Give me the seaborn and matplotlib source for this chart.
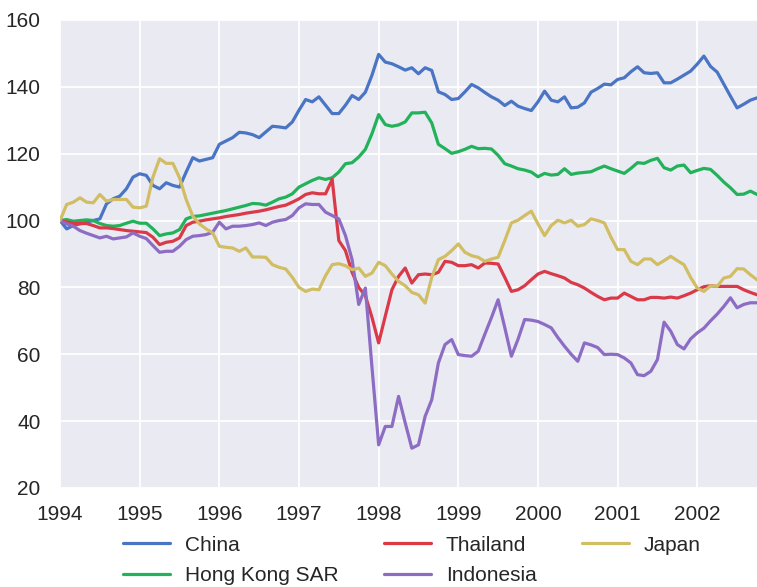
import numpy as np
import pandas as pd
import matplotlib
matplotlib.use("Agg")
import matplotlib.pyplot as plt
import seaborn as sns

start_year = 1994
countries = ["China", "Hong Kong SAR", "Thailand", "Indonesia", "Japan"]
colors = ["#4A74C4", "#21B25A", "#DA3A48", "#8D6CC4", "#D1BD63"]
year_ticks = [1994, 1995, 1996, 1997, 1998, 1999, 2000, 2001, 2002]
y_ticks = [20, 40, 60, 80, 100, 120, 140, 160]

china = [100, 97.5, 98.5, 99, 99.5, 100, 100.5, 105, 106.5, 107.3, 109.5, 113,
         114, 113.5, 110.5, 109.5, 111.3, 110.5, 110, 114.5, 118.8, 117.8, 118.3, 118.8,
         122.8, 123.8, 124.8, 126.4, 126.2, 125.7, 124.8, 126.5, 128.2, 128, 127.7, 129.5,
         133, 136.2, 135.5, 137, 134.5, 132, 132, 134.5, 137.4, 136.2, 138.4, 143.5,
         149.7, 147.4, 146.9, 146, 145, 145.7, 143.9, 145.7, 144.9, 138.5, 137.7, 136.2,
         136.5, 138.5, 140.7, 139.7, 138.3, 137, 136, 134.4, 135.7, 134.2, 133.5, 132.9,
         135.5, 138.7, 136, 135.5, 137, 133.7, 133.9, 135.2, 138.4, 139.5, 140.8, 140.6,
         142.2, 142.7, 144.5, 146, 144.2, 144, 144.2, 141.2, 141.2, 142.3, 143.5, 144.7,
         146.8, 149.2, 146.1, 144.4, 140.8, 137.2, 133.7, 134.8, 136, 136.7]

hong_kong = [100, 100.3, 99.8, 100, 100.2, 100, 99.1, 98.5, 98.3, 98.5, 99.2, 99.8,
             99.2, 99.2, 97.5, 95.5, 96, 96.3, 97.3, 100.5, 101.2, 101.4, 101.8, 102.2,
             102.6, 103, 103.5, 104, 104.5, 105.1, 105, 104.6, 105.5, 106.5, 107, 108,
             110, 111, 112, 112.8, 112.3, 112.8, 114.5, 117, 117.3, 119, 121.3, 126,
             131.7, 128.7, 128.2, 128.6, 129.5, 132.2, 132.2, 132.4, 129.2, 122.8, 121.5, 120.1,
             120.6, 121.3, 122.2, 121.5, 121.6, 121.4, 119.5, 117, 116.3, 115.5, 115.1, 114.5,
             113.1, 114.1, 113.6, 113.8, 115.5, 113.8, 114.2, 114.4, 114.6, 115.5, 116.3, 115.5,
             114.8, 114.1, 115.6, 117.3, 117.1, 118, 118.6, 115.8, 115.1, 116.3, 116.6, 114.3,
             115, 115.6, 115.3, 113.5, 111.5, 109.8, 107.8, 107.9, 108.8, 107.8]

thailand = [100, 99.6, 99.1, 99.1, 99.1, 98.5, 97.8, 97.8, 97.6, 97.3, 97, 96.8,
            96.6, 96.4, 95, 92.8, 93.5, 93.8, 94.8, 98.5, 99.5, 99.8, 100.2, 100.5,
            100.8, 101.2, 101.5, 101.8, 102.2, 102.5, 102.8, 103.2, 103.7, 104.2, 104.6, 105.5,
            106.5, 107.8, 108.3, 108, 108, 112.3, 94, 91, 84.5, 80, 77.5, 71,
            63.4, 71.4, 79.3, 83.3, 85.8, 81.3, 83.8, 84, 83.8, 84.5, 87.8, 87.5,
            86.5, 86.5, 86.8, 85.8, 87.3, 87.2, 87, 83, 78.8, 79.3, 80.5, 82.3,
            84, 84.8, 84.1, 83.5, 82.8, 81.5, 80.8, 79.8, 78.5, 77.3, 76.3, 76.8,
            76.8, 78.3, 77.3, 76.3, 76.3, 77, 77, 76.8, 77.1, 76.8, 77.5, 78.3,
            79.3, 80.2, 80.5, 80.3, 80.3, 80.3, 80.3, 79.3, 78.5, 77.8]

indonesia = [100, 99, 98.3, 97, 96.2, 95.5, 94.8, 95.3, 94.5, 94.8, 95.1, 96.3,
             95.3, 94.6, 92.5, 90.5, 90.8, 90.8, 92.3, 94.3, 95.3, 95.5, 95.8, 96.5,
             99.5, 97.5, 98.3, 98.3, 98.5, 98.8, 99.3, 98.5, 99.5, 100, 100.3, 101.5,
             103.8, 105, 104.8, 104.8, 102.5, 101.5, 100.5, 95.5, 88.3, 74.9, 79.8, 56,
             32.9, 38.4, 38.4, 47.4, 39.5, 31.9, 32.9, 41.4, 46.4, 57.4, 62.9, 64.4,
             59.9, 59.6, 59.4, 60.9, 66, 71, 76.3, 68, 59.4, 64.5, 70.4, 70.2,
             69.8, 68.9, 67.9, 65, 62.4, 60, 57.9, 63.4, 62.8, 62, 59.9, 60,
             59.9, 58.9, 57.4, 53.9, 53.6, 54.9, 58.4, 69.6, 66.9, 62.9, 61.6, 64.6,
             66.4, 67.8, 70, 72, 74.3, 76.9, 73.9, 74.9, 75.4, 75.4]

japan = [100, 104.8, 105.5, 106.8, 105.5, 105.3, 107.8, 105.8, 106.3, 106.3, 106.3, 104,
         103.8, 104.3, 113, 118.5, 117.1, 117.1, 112.8, 106.3, 101.3, 99, 97.5, 96.3,
         92.3, 92, 91.8, 90.8, 91.8, 89.1, 89.1, 89, 86.8, 86, 85.5, 83,
         80, 78.8, 79.5, 79.3, 83.5, 86.8, 87.1, 86.5, 85.3, 85.8, 83.3, 84.3,
         87.5, 86.5, 84, 81.8, 80.5, 78.5, 77.8, 75.3, 83, 88.3, 89.3, 91,
         93, 90.5, 89.5, 89, 87.8, 88.5, 89, 94, 99.3, 100.1, 101.5, 102.8,
         99, 95.5, 98.5, 100.1, 99.3, 100.1, 98.3, 98.8, 100.5, 100, 99.3, 95,
         91.3, 91.3, 87.8, 86.8, 88.5, 88.5, 86.8, 88, 89.3, 88, 86.8, 83,
         79.8, 78.8, 80.5, 80.3, 82.8, 83.3, 85.6, 85.5, 83.8, 82.3]

series = {"China": china, "Hong Kong SAR": hong_kong, "Thailand": thailand,
          "Indonesia": indonesia, "Japan": japan}

n = len(china)
years = start_year + np.arange(n) / 12.0
df = pd.concat([pd.DataFrame({"year": years, "value": v, "country": k})
                for k, v in series.items()], ignore_index=True)

sns.set_theme(style="darkgrid", rc={"axes.facecolor": "#EAEAF2",
                                    "grid.color": "white", "grid.linewidth": 1.3})
plt.rcParams["font.family"] = ["Liberation Sans", "DejaVu Sans"]
fs = 15

fig = plt.figure(figsize=(7.57, 5.87), dpi=100)
ax = fig.add_axes([0.0793, 0.1687, 0.9207, 0.7973])
sns.lineplot(data=df, x="year", y="value", hue="country", hue_order=countries,
             palette=colors, linewidth=2.3, ax=ax, legend=True)

ax.set_xlim(years[0], years[-1])
ax.set_ylim(20, 160)
ax.set_xticks(year_ticks)
ax.set_xticklabels([str(y) for y in year_ticks])
ax.set_yticks(y_ticks)
ax.set_xlabel("")
ax.set_ylabel("")
ax.tick_params(axis="both", labelsize=fs, colors="#262626")
ax.tick_params(axis="x", pad=6)
ax.tick_params(axis="y", pad=8)
for s in ax.spines.values():
    s.set_visible(False)

handles, labels = ax.get_legend_handles_labels()
ax.legend(handles, labels, loc="upper center", bbox_to_anchor=(0.505, -0.062),
          ncol=3, frameon=False, fontsize=fs, handlelength=2.25,
          handletextpad=0.7, columnspacing=2.2, labelspacing=0.55)

fig.savefig("out.png", dpi=100)
